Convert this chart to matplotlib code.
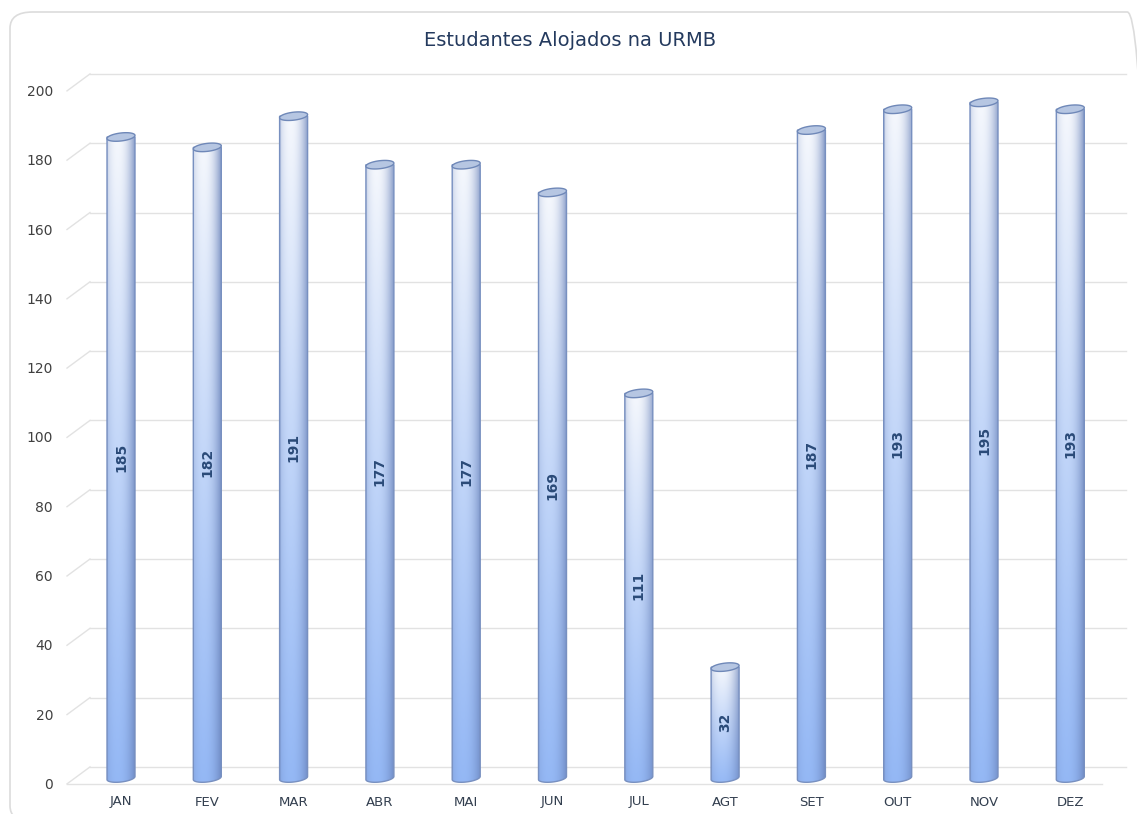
import numpy as np
import matplotlib
matplotlib.use("Agg")
import matplotlib.pyplot as plt
from matplotlib.path import Path
from matplotlib.patches import PathPatch, Polygon, FancyBboxPatch

months = ["JAN", "FEV", "MAR", "ABR", "MAI", "JUN", "JUL", "AGT", "SET", "OUT", "NOV", "DEZ"]
students = [185, 182, 191, 177, 177, 169, 111, 32, 187, 193, 195, 193]
yticks = [0, 20, 40, 60, 80, 100, 120, 140, 160, 180, 200]
title = "Estudantes Alojados na URMB"

W, H = 1137, 814
fig = plt.figure(figsize=(W / 100, H / 100), dpi=100)
fig.patch.set_facecolor("white")

# rounded outer frame, partly cut by the right / bottom edges like the source
frame = FancyBboxPatch((10 / W, 1 - 822 / H), 1140 / W, 810 / H,
                       boxstyle="round,pad=0,rounding_size=0.02",
                       transform=fig.transFigure, facecolor="none",
                       edgecolor="#dcdcdc", linewidth=1.2, zorder=-10)
fig.patches.append(frame)

ax = fig.add_axes([0, 0, 1, 1])
ax.set_axis_off()
ax.patch.set_visible(False)

back = 3.2      # back wall offset (value units)
x_wall0, x_wall1 = (90 - 121) / 86.3, (1126 - 121) / 86.3
x_front0, x_front1 = (67 - 121) / 86.3, (1102 - 121) / 86.3
grid_c = "#e2e2e2"
for v in yticks:
    ax.plot([x_wall0, x_wall1], [v + back, v + back], color=grid_c, lw=1.0, zorder=1)
    ax.plot([x_front0, x_wall0], [v - 1.7, v + back], color=grid_c, lw=1.0, zorder=1)
    ax.text((53 - 121) / 86.3, v - 2, str(v), ha="right", va="center",
            fontsize=10, color="#404040", zorder=5)
# floor front edge
ax.plot([x_front0, x_front1], [-1.7, -1.7], color=grid_c, lw=1.0, zorder=1)

xs = np.arange(len(months))
bw = 28 / 86.3
eh = 8 / 3.465        # ellipse height in value units
tilt = 0.45           # right side of ellipses slightly higher

bars = ax.bar(xs, students, width=bw, color="none", edgecolor="none", zorder=2)

bottom_c = np.array([0.58, 0.72, 0.96])
top_c = np.array([0.96, 0.97, 0.99])
edge_c = np.array([0.40, 0.50, 0.72])

ny, nx = 200, 80
sgrid = np.linspace(0, 1, nx)
tgrid = np.linspace(1, 0, ny)
edge_f = np.clip(np.abs(sgrid - 0.38) / 0.62, 0, 1) ** 2.2 * 0.75
edge_f[:3] += 0.15

th = np.linspace(np.pi, 2 * np.pi, 40)
th_full = np.linspace(0, 2 * np.pi, 80)

for x, v, bar in zip(xs, students, bars):
    x0, x1 = x - bw / 2, x + bw / 2
    bx = x + bw / 2 * np.cos(th)
    by = eh / 2 * np.sin(th) + tilt * np.cos(th)
    verts = [(x0, v)] + list(zip(bx, by)) + [(x1, v), (x0, v)]
    codes = [Path.MOVETO] + [Path.LINETO] * (len(verts) - 2) + [Path.CLOSEPOLY]
    body = PathPatch(Path(verts, codes), facecolor="none",
                     edgecolor="#7890c0", lw=1.0, zorder=3)
    ax.add_patch(body)

    base = bottom_c + (top_c - bottom_c) * (tgrid[:, None, None] ** 1.1)
    img = base * (1 - edge_f[None, :, None]) + edge_c * edge_f[None, :, None]
    im = ax.imshow(np.clip(img, 0, 1), extent=[x0, x1, -eh, v], aspect="auto",
                   interpolation="bilinear", zorder=2.5)
    im.set_clip_path(body)

    tx = x + bw / 2 * np.cos(th_full)
    ty = v + eh / 2 * np.sin(th_full) + tilt * np.cos(th_full)
    ax.add_patch(Polygon(np.column_stack([tx, ty]), closed=True,
                         facecolor="#b6c6e2", edgecolor="#6f88b8", lw=1.0, zorder=4))

    ax.text(x, v / 2, str(v), rotation=90, ha="center", va="center",
            fontsize=10, fontweight="bold", color="#2a4a78", zorder=5)
    ax.text(x, (778 - 802) / 3.465, months[x], ha="center", va="center",
            fontsize=9.5, color="#333f4f", zorder=5)

# index i -> px 121 + 86.3 i ; value v -> px 778 - 3.465 v
ax.set_xlim((0 - 121) / 86.3, (W - 121) / 86.3)
ax.set_ylim((778 - H) / 3.465, 778 / 3.465)

fig.text(0.501, 1 - 40 / H, title, ha="center", va="center",
         fontsize=14, color="#243a5e")

fig.savefig("out.png", dpi=100, facecolor="white")
